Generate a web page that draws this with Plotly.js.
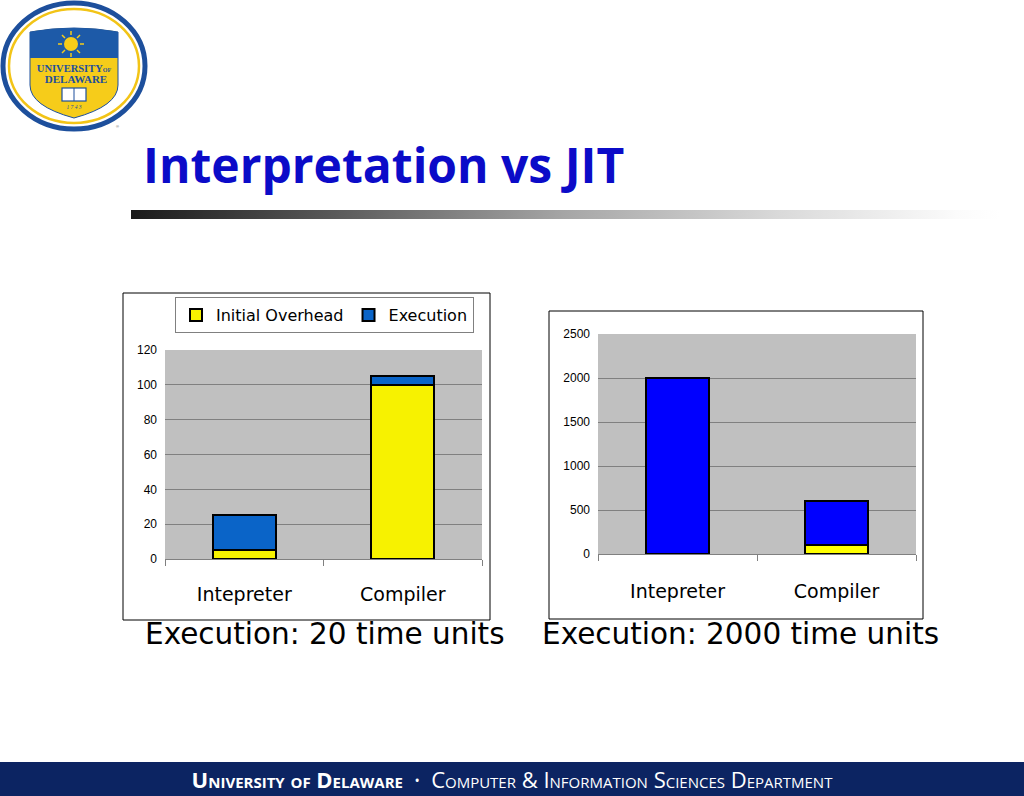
<!DOCTYPE html>
<html>
<head>
<meta charset="utf-8">
<script src="https://cdn.plot.ly/plotly-3.0.1.min.js"></script>
<style>
  html, body { margin:0; padding:0; background:#fff; }
  #wrap { position:relative; width:1024px; height:796px; overflow:hidden; }
  #chart { position:absolute; left:0; top:0; width:1024px; height:796px; }
  .ov { position:absolute; pointer-events:none; }
  #grad { left:131px; top:210px; width:869px; height:9px;
    background:linear-gradient(to right,#1a1a1a 0%,#5e5e5e 25%,#a6a6a6 50%,#dadada 75%,#fbfbfb 95%,#ffffff 100%); }
  #footer { left:0; top:762px; width:1024px; height:34px; background:#0c2462;
    color:#fff; font-family:"Open Sans","DejaVu Sans",sans-serif; font-size:22px;
    font-variant:small-caps; text-align:center; line-height:34px; letter-spacing:0px; }
  #footer b { font-weight:700; }
  #footer .dot { font-size:14px; vertical-align:2px; }
  #logo { left:0; top:0; width:150px; height:135px; }
</style>
</head>
<body>
<div id="wrap">
  <div id="chart"></div>
  <div id="grad" class="ov"></div>
  <div id="footer" class="ov"><b>University of Delaware</b> &nbsp;<span class="dot">&bull;</span>&nbsp; Computer &amp; Information Sciences Department</div>
  <svg id="logo" class="ov" viewBox="0 0 150 135" xmlns="http://www.w3.org/2000/svg">
    <ellipse cx="74" cy="66" rx="71" ry="63" fill="#fff" stroke="#1d4f9c" stroke-width="5"/>
    <ellipse cx="74" cy="66" rx="65" ry="57" fill="none" stroke="#f2c417" stroke-width="2.5"/>
    <path d="M30 32 Q74 24 118 32 L118 85 Q118 106 74 118 Q30 106 30 85 Z" fill="#f6cc1a" stroke="#1d4f9c" stroke-width="1"/>
    <path d="M30 32 Q74 24 118 32 L118 58 L30 58 Z" fill="#1d5aa8"/>
    <circle cx="71" cy="44" r="7" fill="#f6cc1a"/>
    <g stroke="#f6cc1a" stroke-width="1.5">
      <line x1="71" y1="31" x2="71" y2="35"/><line x1="71" y1="53" x2="71" y2="57"/>
      <line x1="58" y1="44" x2="62" y2="44"/><line x1="80" y1="44" x2="84" y2="44"/>
      <line x1="62" y1="35" x2="65" y2="38"/><line x1="77" y1="50" x2="80" y2="53"/>
      <line x1="80" y1="35" x2="77" y2="38"/><line x1="62" y1="53" x2="65" y2="50"/>
    </g>
    <text x="74" y="72" text-anchor="middle" font-family="Liberation Serif,serif" font-size="10.5" fill="#1d4f9c" font-weight="bold">UNIVERSITY<tspan font-size="6">OF</tspan></text>
    <text x="76" y="83" text-anchor="middle" font-family="Liberation Serif,serif" font-size="11" fill="#1d4f9c" font-weight="bold">DELAWARE</text>
    <rect x="62" y="88" width="24" height="13" fill="#fff" stroke="#1d4f9c" stroke-width="1.2"/>
    <line x1="74" y1="88" x2="74" y2="101" stroke="#1d4f9c" stroke-width="1"/>
    <text x="74" y="109" text-anchor="middle" font-family="Liberation Serif,serif" font-size="5.5" fill="#1d4f9c" font-style="italic">1 7 4 3</text>
    <text x="116" y="128" font-family="sans-serif" font-size="4" fill="#555">®</text>
  </svg>
</div>
<script>
// ---- data ----
const categories = ['Intepreter', 'Compiler'];
const seriesNames = ['Initial Overhead', 'Execution'];
const leftOverhead = [5, 100];
const leftExecution = [20, 5];
const rightOverhead = [5, 100];
const rightExecution = [2000, 500];
const leftYTicks = [0, 20, 40, 60, 80, 100, 120];
const rightYTicks = [0, 500, 1000, 1500, 2000, 2500];

// ---- helpers (pixel -> paper) ----
const W = 1024, H = 796;
const px = x => x / W;
const py = y => 1 - y / H;

const catFont = {family: '"DejaVu Sans", sans-serif', size: 19, color: '#000'};
const tickFont = {family: '"Liberation Sans", Arial, sans-serif', size: 12, color: '#000'};
const barLine = {color: '#000', width: 2};

const traces = [
  {type: 'bar', x: categories, y: leftOverhead, name: seriesNames[0], xaxis: 'x', yaxis: 'y',
   width: 0.4, marker: {color: '#f7f200', line: barLine}},
  {type: 'bar', x: categories, y: leftExecution, name: seriesNames[1], xaxis: 'x', yaxis: 'y',
   width: 0.4, marker: {color: '#0a64c8', line: barLine}},
  {type: 'bar', x: categories, y: rightOverhead, name: seriesNames[0], xaxis: 'x2', yaxis: 'y2',
   width: 0.4, showlegend: false, marker: {color: '#ffff00', line: barLine}},
  {type: 'bar', x: categories, y: rightExecution, name: seriesNames[1], xaxis: 'x2', yaxis: 'y2',
   width: 0.4, showlegend: false, marker: {color: '#0000ff', line: barLine}}
];

function xax(domain, anchor, standoff) {
  return {domain: domain, anchor: anchor, type: 'category', showline: true, linecolor: '#808080',
    linewidth: 1, ticks: 'outside', tickson: 'boundaries', ticklen: 6, tickcolor: '#808080',
    showgrid: false, zeroline: false, tickfont: catFont, ticklabelstandoff: standoff, fixedrange: true};
}
function yax(domain, anchor, range, vals) {
  return {domain: domain, anchor: anchor, range: range, tickvals: vals, ticktext: vals.map(String),
    showline: false, showgrid: true, gridcolor: '#808080', gridwidth: 1, zeroline: false,
    ticks: '', tickfont: tickFont, ticklabelstandoff: 7, fixedrange: true};
}

const layout = {
  width: W, height: H,
  margin: {l: 0, r: 0, t: 0, b: 0},
  paper_bgcolor: 'rgba(0,0,0,0)',
  plot_bgcolor: '#c0c0c0',
  barmode: 'stack',
  showlegend: true,
  xaxis: xax([px(165), px(482)], 'y', 18),
  yaxis: yax([py(559), py(350)], 'x', [0, 120], leftYTicks),
  xaxis2: xax([px(598), px(916)], 'y2', 20),
  yaxis2: yax([py(554), py(334)], 'x2', [0, 2500], rightYTicks),
  legend: {orientation: 'h', x: px(175), y: py(297), xanchor: 'left', yanchor: 'top',
    bgcolor: '#fff', bordercolor: '#808080', borderwidth: 1, traceorder: 'normal',
    font: {family: '"DejaVu Sans", sans-serif', size: 16, color: '#000'},
    itemwidth: 30},
  shapes: [
    {type: 'rect', xref: 'paper', yref: 'paper', x0: px(123), x1: px(490), y0: py(620), y1: py(293),
     line: {color: '#000', width: 1}, fillcolor: 'rgba(0,0,0,0)', layer: 'below'},
    {type: 'rect', xref: 'paper', yref: 'paper', x0: px(549), x1: px(923), y0: py(619), y1: py(311),
     line: {color: '#000', width: 1}, fillcolor: 'rgba(0,0,0,0)', layer: 'below'}
  ],
  annotations: [
    {text: '<b>Interpretation vs JIT</b>', xref: 'paper', yref: 'paper', x: px(141), y: py(165),
     xanchor: 'left', yanchor: 'middle', showarrow: false,
     font: {family: '"Open Sans", Lato, sans-serif', size: 48, color: '#0b0bc8'}},
    {text: 'Execution: 20 time units', xref: 'paper', yref: 'paper', x: px(143), y: py(634),
     xanchor: 'left', yanchor: 'middle', showarrow: false,
     font: {family: '"DejaVu Sans", sans-serif', size: 29.5, color: '#000'}},
    {text: 'Execution: 2000 time units', xref: 'paper', yref: 'paper', x: px(540), y: py(634),
     xanchor: 'left', yanchor: 'middle', showarrow: false,
     font: {family: '"DejaVu Sans", sans-serif', size: 29.5, color: '#000'}}
  ]
};

Plotly.newPlot('chart', traces, layout, {staticPlot: true, displayModeBar: false});
</script>
</body>
</html>
